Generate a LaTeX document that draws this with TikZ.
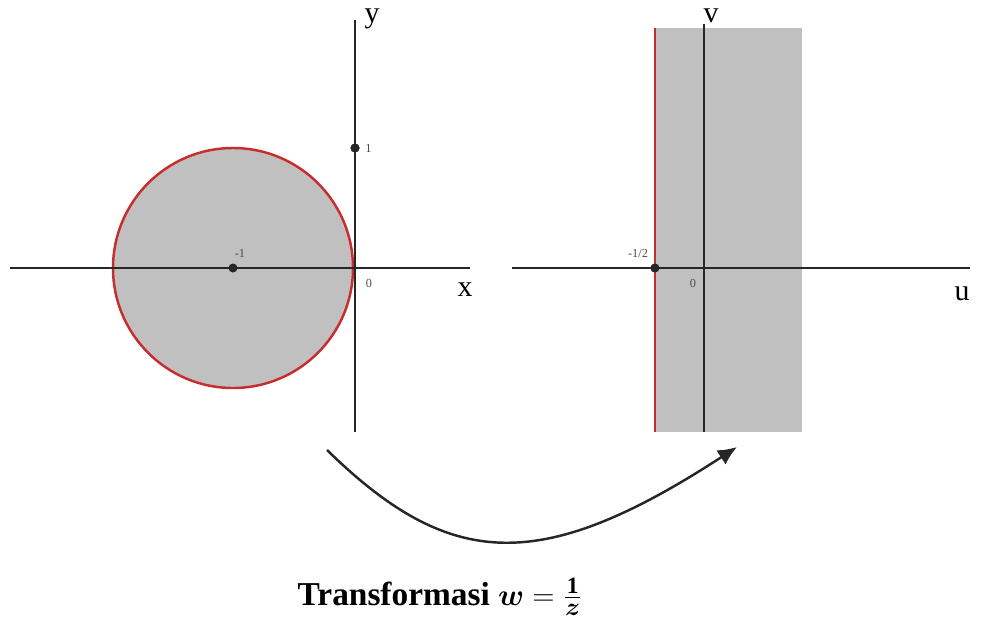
\documentclass[tikz,border=0pt]{standalone}
\usepackage{amsmath}
\usepackage{bm}
\usepackage{fontspec}
\setmainfont{Liberation Serif}
\usetikzlibrary{arrows.meta, positioning}

\definecolor{regiongray}{RGB}{192,192,192}
\definecolor{edgered}{RGB}{200,45,45}

\begin{document}
\begin{tikzpicture}[
    x=0.02cm, y=-0.02cm,
    axis/.style={line width=1.4pt, black!85},
    rim/.style={line width=1.4pt, edgered},
    pt/.style={circle, fill=black!85, inner sep=0pt, minimum size=1.8mm},
    tick/.style={font=\fontsize{7}{8}\selectfont, text=black!70, inner sep=1pt},
    axlab/.style={font=\fontsize{17}{18}\selectfont, inner sep=0pt},
    trans/.style={-{Latex[length=3.8mm, width=3.4mm]}, line width=1.4pt, black!85}
]
\useasboundingbox (0,0) rectangle (984,623);

% bidang z
\coordinate (xl) at (10,268);
\coordinate (xr) at (470,268);
\coordinate (yb) at (355,432);
\coordinate (yt) at (355,20);
\node[pt] (zc) at (233,268) {};
\node[pt] (zone) at (355,148) {};
\coordinate (zo) at (355,268);

\fill[regiongray] (zc) circle[radius=120];
\draw[rim] (zc) circle[radius=120];
\draw[axis] (xl) -- (xr);
\draw[axis] (yb) -- (yt);
\node[pt] at (zc) {};
\node[pt] at (zone) {};

\node[tick] (lm1) at (240,253) {-1};
\node[tick, right=2pt of zone] (l1) {1};
\node[tick] (lz0) at (369,283) {0};
\node[axlab] (lx) at (465,290) {x};
\node[axlab] (ly) at (372,19) {y};

% bidang w
\coordinate (ul) at (512,268);
\coordinate (ur) at (970,268);
\coordinate (vb) at (704,432);
\coordinate (vt) at (704,24);
\coordinate (sb) at (655,432);
\coordinate (st) at (655,28);
\coordinate (sr) at (802,28);
\node[pt] (wh) at (655,268) {};

\fill[regiongray] (sb) rectangle (sr);
\draw[rim] (sb) -- (st);
\draw[axis] (ul) -- (ur);
\draw[axis] (vb) -- (vt);
\node[pt] at (wh) {};

\node[tick] (lh) at (638,253) {-1/2};
\node[tick] (lw0) at (693,283) {0};
\node[axlab] (lu) at (962,294) {u};
\node[axlab] (lv) at (711,16) {v};

% panah transformasi
\coordinate (from) at (327,450);
\coordinate (to) at (737,447);
\draw[trans] (from) .. controls (450,570) and (540,575) .. (to);

\node[font=\fontsize{19}{22}\selectfont\bfseries] (cap) at (440,597)
{Transformasi $\bm{w} = \tfrac{\mathbf{1}}{\bm{z}}$};

\end{tikzpicture}
\end{document}
